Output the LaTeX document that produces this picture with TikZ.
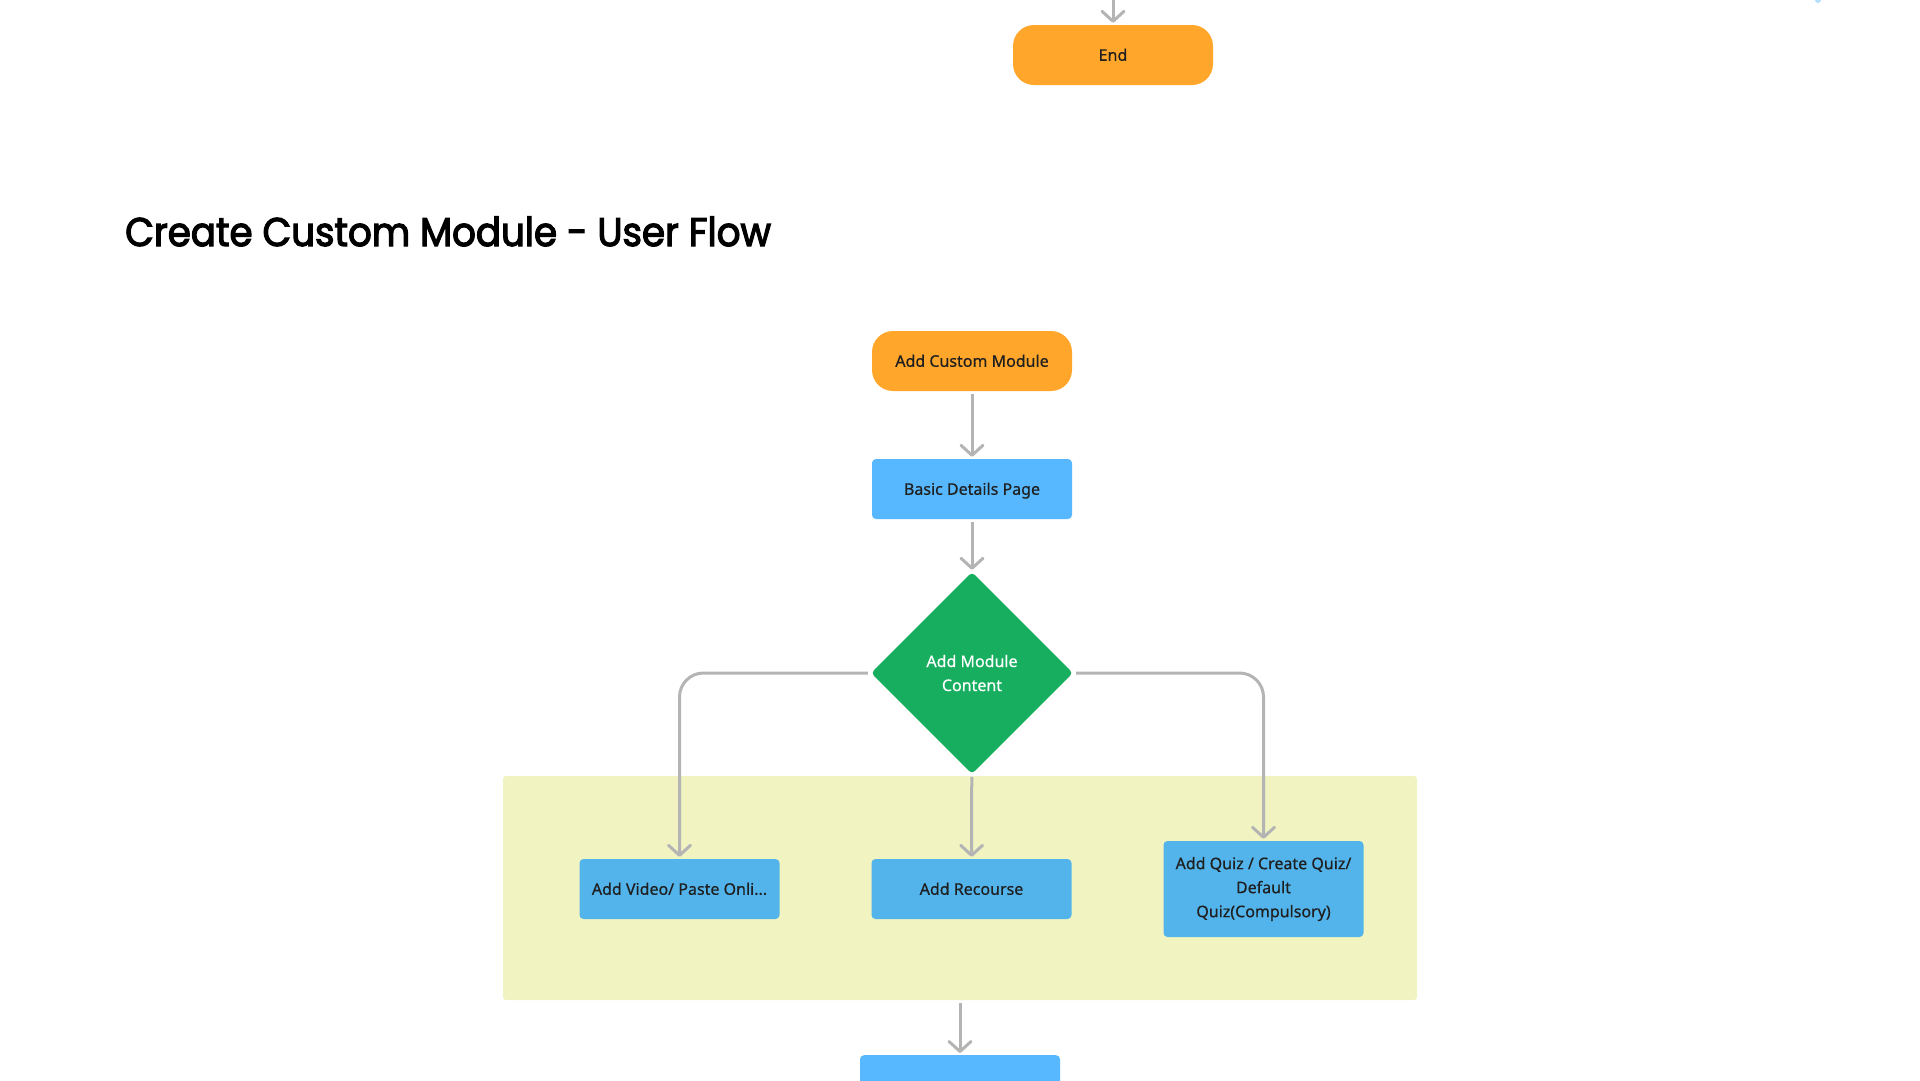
\documentclass[tikz,border=0pt]{standalone}
\usepackage{fontspec}
\setmainfont{Noto Sans}[FakeBold=0.5]
\newfontfamily\titlefont[FakeStretch=0.93,FakeBold=3]{Poppins}
\usetikzlibrary{shapes.geometric,arrows.meta}

\definecolor{flowOrange}{HTML}{FFA62B}
\definecolor{flowBlue}{HTML}{57B8FF}
\definecolor{groupBlue}{HTML}{52B4EB}
\definecolor{flowGreen}{HTML}{17AE5F}
\definecolor{groupYellow}{HTML}{F1F4C0}
\definecolor{lineGray}{HTML}{B4B4B4}
\definecolor{textDark}{HTML}{1F1F1F}

\begin{document}
\begin{tikzpicture}[x=1pt,y=-1pt,
    every node/.style={inner sep=0pt,font=\fontsize{16}{24}\selectfont,text=textDark},
    oneline/.style={text height=15pt,text depth=3.5pt},
    terminal/.style={oneline,fill=flowOrange,rounded corners=21pt,minimum width=200pt,minimum height=60pt},
    process/.style={fill=flowBlue,rounded corners=4pt,minimum width=200pt,minimum height=60pt,align=center},
    decision/.style={diamond,aspect=1,fill=flowGreen,rounded corners=4pt,minimum size=202pt,text=white,align=center},
    group/.style={fill=groupYellow,rounded corners=3pt,minimum width=914pt,minimum height=224pt},
    conn/.style={draw=lineGray,line width=3pt,-{Straight Barb[length=10pt,width=22pt,round]},shorten >=2pt,shorten <=3pt}]
                \useasboundingbox (0,0) rectangle (1920,1080);

                % flow above, cut off
                \coordinate (topin) at (1113,-30);
                \node[terminal] (end) at (1113,55) {End};
                \fill[flowBlue!45] (1818,0) circle (3pt);

                \node[anchor=base west,font=\titlefont\fontsize{40}{48}\selectfont,text=black] (title) at (125,246) {Create Custom Module - User Flow};

                \node[group] (contentgroup) at (960,888) {};

                \node[terminal] (addmodule) at (972,361) {Add Custom Module};
                \node[process,oneline] (basic) at (972,489) {Basic Details Page};
                \node[decision] (content) at (972,673) {Add Module\\Content};
                \node[process,oneline,fill=groupBlue] (video) at (679.5,889) {Add Video/ Paste Onli...};
                \node[process,oneline,fill=groupBlue] (recourse) at (971.5,889) {Add Recourse};
                \node[process,fill=groupBlue,minimum height=96pt] (quiz) at (1263.5,889) {Add Quiz / Create Quiz/\\Default\\Quiz(Compulsory)};
                \node[process,anchor=north] (next) at (960,1055) {};

                \path [conn] (topin) edge (end);
                \path [conn] (addmodule) edge (basic);
                \path [conn] (basic) edge (content);
                \path [conn] (content) edge (recourse);
                \draw [conn,rounded corners=24pt] (content.west) -| (video.north);
                \draw [conn,rounded corners=24pt] (content.east) -| (quiz.north);
                \path [conn] (contentgroup) edge (next);
            \end{tikzpicture}
\end{document}
